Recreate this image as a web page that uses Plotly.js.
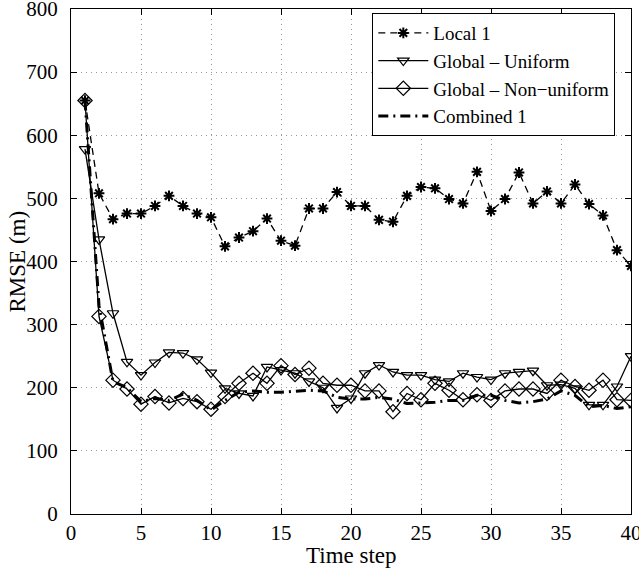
<!DOCTYPE html>
<html>
<head>
<meta charset="utf-8">
<script src="https://cdn.plot.ly/plotly-3.0.1.min.js"></script>
<style>html,body{margin:0;padding:0;background:#fff;}#chart{width:639px;height:569px;}</style>
</head>
<body>
<div id="chart"></div>
<script>
const timeSteps = Array.from({length: 40}, (_, i) => i + 1);
const local1 = [655,508,467,476,476,488,504,488,476,470,424,438,448,468,433,425,484,484,510,488,488,466,463,504,518,516,499,492,542,480,499,541,492,511,492,522,491,473,418,393];
const globalUniform = [578,435,318,241,220,240,256,255,245,224,199,191,187,233,228,223,210,200,168,183,223,236,225,220,220,213,210,223,217,213,223,225,227,204,205,199,173,173,202,250];
const globalNonUniform = [655,313,212,198,174,186,176,183,178,166,186,207,223,207,235,221,231,207,204,204,195,195,162,191,181,207,196,181,189,180,195,198,198,191,212,202,196,212,181,180];
const combined1 = [655,330,210,200,178,183,180,190,180,165,180,193,195,193,193,195,196,195,185,182,182,185,182,175,176,177,180,180,188,188,180,176,178,182,195,188,170,172,167,170];
const seriesNames = ['Local 1', 'Global \u2013 Uniform', 'Global \u2013 Non\u2212uniform', 'Combined 1'];
const xTitle = 'Time step';
const yTitle = 'RMSE (m)';

const fontFam = '"Liberation Serif", "Times New Roman", serif';

const traces = [
  {x: timeSteps, y: local1, name: seriesNames[0], mode: 'lines+markers',
   line: {color: 'black', width: 1.3, dash: '7px,5px'},
   marker: {symbol: 'asterisk-open', size: 9, color: 'black', line: {color: 'black', width: 2}}},
  {x: timeSteps, y: globalUniform, name: seriesNames[1], mode: 'lines+markers',
   line: {color: 'black', width: 1.3},
   marker: {symbol: 'triangle-down-open', size: 10, color: 'black', line: {color: 'black', width: 1.2}}},
  {x: timeSteps, y: globalNonUniform, name: seriesNames[2], mode: 'lines+markers',
   line: {color: 'black', width: 1.3},
   marker: {symbol: 'diamond-open', size: 11, color: 'black', line: {color: 'black', width: 1.2}}},
  {x: timeSteps, y: combined1, name: seriesNames[3], mode: 'lines',
   line: {color: 'black', width: 3, dash: '10px,5px,2px,5px'}}
];

const axisCommon = {
  showline: true, linecolor: 'black', linewidth: 1, mirror: 'allticks',
  ticks: 'inside', ticklen: 6, tickcolor: 'black',
  showgrid: true, gridcolor: '#999', griddash: '1px,4px', gridwidth: 1,
  zeroline: false, ticklabeloverflow: 'allow',
  tickfont: {family: fontFam, size: 21, color: 'black'}
};

const layout = {
  width: 639, height: 569,
  margin: {l: 71, r: 8, t: 9, b: 55},
  paper_bgcolor: 'white', plot_bgcolor: 'white',
  showlegend: true,
  legend: {x: 0.972, xanchor: 'right', y: 0.992, yanchor: 'top',
           bgcolor: 'white', bordercolor: 'black', borderwidth: 1,
           font: {family: fontFam, size: 19, color: 'black'},
           tracegroupgap: 0, itemwidth: 50},
  xaxis: Object.assign({}, axisCommon, {range: [0, 40], tickvals: [0,5,10,15,20,25,30,35,40]}),
  yaxis: Object.assign({}, axisCommon, {range: [0, 800], tickvals: [0,100,200,300,400,500,600,700,800],
    ticklabelstandoff: 8}),
  annotations: [
    {text: xTitle, xref: 'paper', yref: 'paper', x: 0.5, y: 0, xanchor: 'center', yanchor: 'middle',
     yshift: -41, showarrow: false, font: {family: fontFam, size: 23, color: 'black'}},
    {text: yTitle, xref: 'paper', yref: 'paper', x: 0, y: 0.5, xanchor: 'center', yanchor: 'middle',
     xshift: -54, textangle: -90, showarrow: false, font: {family: fontFam, size: 23, color: 'black'}}
  ]
};

Plotly.newPlot('chart', traces, layout, {displayModeBar: false, staticPlot: true});
</script>
</body>
</html>
